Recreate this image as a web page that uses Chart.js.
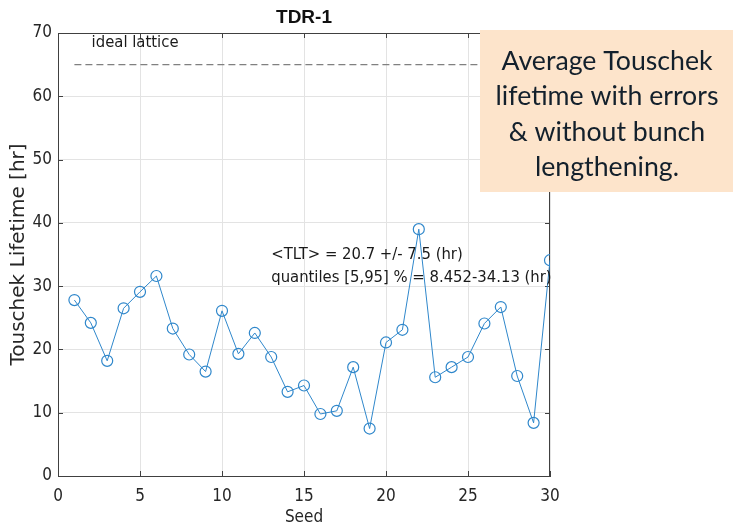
<!DOCTYPE html>
<html>
<head>
<meta charset="utf-8">
<script src="https://cdn.jsdelivr.net/npm/chart.js@4.4.1/dist/chart.umd.min.js"></script>
<style>
  html, body { margin: 0; background: #fff; }
  #wrap { width: 733px; height: 528px; }
</style>
</head>
<body>
<div id="wrap"><canvas id="tltChart"></canvas></div>
<script>
// Touschek lifetime per error seed
const seeds = [1, 2, 3, 4, 5, 6, 7, 8, 9, 10, 11, 12, 13, 14, 15,
               16, 17, 18, 19, 20, 21, 22, 23, 24, 25, 26, 27, 28, 29, 30];
const lifetime = [27.8, 24.2, 18.2, 26.5, 29.1, 31.6, 23.3, 19.2, 16.5, 26.1,
                  19.3, 22.6, 18.8, 13.3, 14.3, 9.8, 10.3, 17.2, 7.5, 21.1,
                  23.1, 39.0, 15.6, 17.2, 18.8, 24.1, 26.7, 15.8, 8.4, 34.1];
const idealLifetime = 65;
const idealRange = [1, 30];
const xTicks = [0, 5, 10, 15, 20, 25, 30];
const yTicks = [0, 10, 20, 30, 40, 50, 60, 70];

const statsLines = ['<TLT> = 20.7 +/- 7.5 (hr)', 'quantiles [5,95] % = 8.452-34.13 (hr)'];
const noteLines = ['Average Touschek', 'lifetime with errors', '& without bunch', 'lengthening.'];

const AXIS = '#404040';
const BLUE = '#2f87cb';
const FONT = "'DejaVu Sans Condensed', 'DejaVu Sans', sans-serif";

// box, inward ticks, title and text notes
const decorations = {
  id: 'decorations',
  beforeDatasetsDraw(chart) {
    const { ctx, chartArea: a, scales: { x, y } } = chart;
    ctx.save();
    ctx.strokeStyle = AXIS;
    ctx.lineWidth = 1;
    ctx.beginPath();
    ctx.moveTo(a.left, a.top + 0.5); ctx.lineTo(a.right, a.top + 0.5);
    ctx.moveTo(a.right - 0.5, a.top); ctx.lineTo(a.right - 0.5, a.bottom);
    xTicks.forEach(v => {
      const px = Math.round(x.getPixelForValue(v)) + 0.5;
      ctx.moveTo(px, a.bottom); ctx.lineTo(px, a.bottom - 5);
      ctx.moveTo(px, a.top); ctx.lineTo(px, a.top + 5);
    });
    yTicks.forEach(v => {
      const py = Math.round(y.getPixelForValue(v)) + 0.5;
      ctx.moveTo(a.left, py); ctx.lineTo(a.left + 5, py);
      ctx.moveTo(a.right, py); ctx.lineTo(a.right - 5, py);
    });
    ctx.stroke();
    ctx.restore();
  },
  afterDraw(chart) {
    const { ctx, chartArea: a, scales: { x, y } } = chart;
    ctx.save();
    ctx.fillStyle = '#111';
    ctx.font = "bold 19px 'Liberation Sans', sans-serif";
    ctx.textAlign = 'center';
    ctx.textBaseline = 'middle';
    ctx.fillText('TDR-1', (a.left + a.right) / 2, 18);

    ctx.fillStyle = '#1a1a1a';
    ctx.font = '16.5px ' + FONT;
    ctx.textAlign = 'left';
    ctx.fillText('ideal lattice', x.getPixelForValue(2.05), y.getPixelForValue(68.4));
    ctx.fillText(statsLines[0], x.getPixelForValue(13), y.getPixelForValue(34.9));
    ctx.fillText(statsLines[1], x.getPixelForValue(13), y.getPixelForValue(31.4));

    // callout box on the right
    ctx.fillStyle = '#fde4cb';
    ctx.fillRect(480, 30, 253, 162);
    ctx.fillStyle = '#13202c';
    ctx.font = "26.7px Lato, 'Open Sans', sans-serif";
    ctx.textAlign = 'center';
    noteLines.forEach((t, i) => ctx.fillText(t, 607, 61 + i * 35.5));
    ctx.restore();
  }
};

const ctx = document.getElementById('tltChart').getContext('2d');
const tltChart = new Chart(ctx, {
  type: 'line',
  data: {
    datasets: [{
      label: 'ideal lattice',
      data: idealRange.map(s => ({ x: s, y: idealLifetime })),
      borderColor: '#808080',
      borderWidth: 1.3,
      borderDash: [7, 4],
      pointRadius: 0
    }, {
      label: 'TLT',
      data: seeds.map((s, i) => ({ x: s, y: lifetime[i] })),
      borderColor: BLUE,
      borderWidth: 1,
      pointStyle: 'circle',
      pointRadius: 5.5,
      pointBorderWidth: 1.2,
      pointBorderColor: BLUE,
      pointBackgroundColor: 'rgba(0,0,0,0)',
      tension: 0
    }]
  },
  options: {
    responsive: true,
    maintainAspectRatio: false,
    animation: false,
    layout: { padding: { left: 0, right: 183, top: 33, bottom: 0 } },
    plugins: {
      legend: { display: false },
      tooltip: { enabled: false }
    },
    scales: {
      x: {
        type: 'linear',
        min: 0,
        max: 30,
        afterFit: s => { s.height = 52; },
        afterBuildTicks: s => { s.ticks = xTicks.map(v => ({ value: v })); },
        grid: { color: '#e3e3e3', drawTicks: false },
        border: { color: AXIS },
        ticks: { color: '#262626', font: { family: FONT, size: 17 }, padding: 10, maxRotation: 0 },
        title: { display: true, text: 'Seed', color: '#262626', font: { family: FONT, size: 17 }, padding: { top: 0, bottom: 0 } }
      },
      y: {
        min: 0,
        max: 70,
        afterFit: s => { s.width = 58; },
        afterBuildTicks: s => { s.ticks = yTicks.map(v => ({ value: v })); },
        grid: { color: '#e3e3e3', drawTicks: false },
        border: { color: AXIS },
        ticks: { color: '#262626', font: { family: FONT, size: 17 }, padding: 6 },
        title: { display: true, text: 'Touschek Lifetime [hr]', color: '#262626', font: { family: "'DejaVu Sans', sans-serif", size: 20 }, padding: { top: 7, bottom: 0 } }
      }
    }
  },
  plugins: [decorations]
});
</script>
</body>
</html>
